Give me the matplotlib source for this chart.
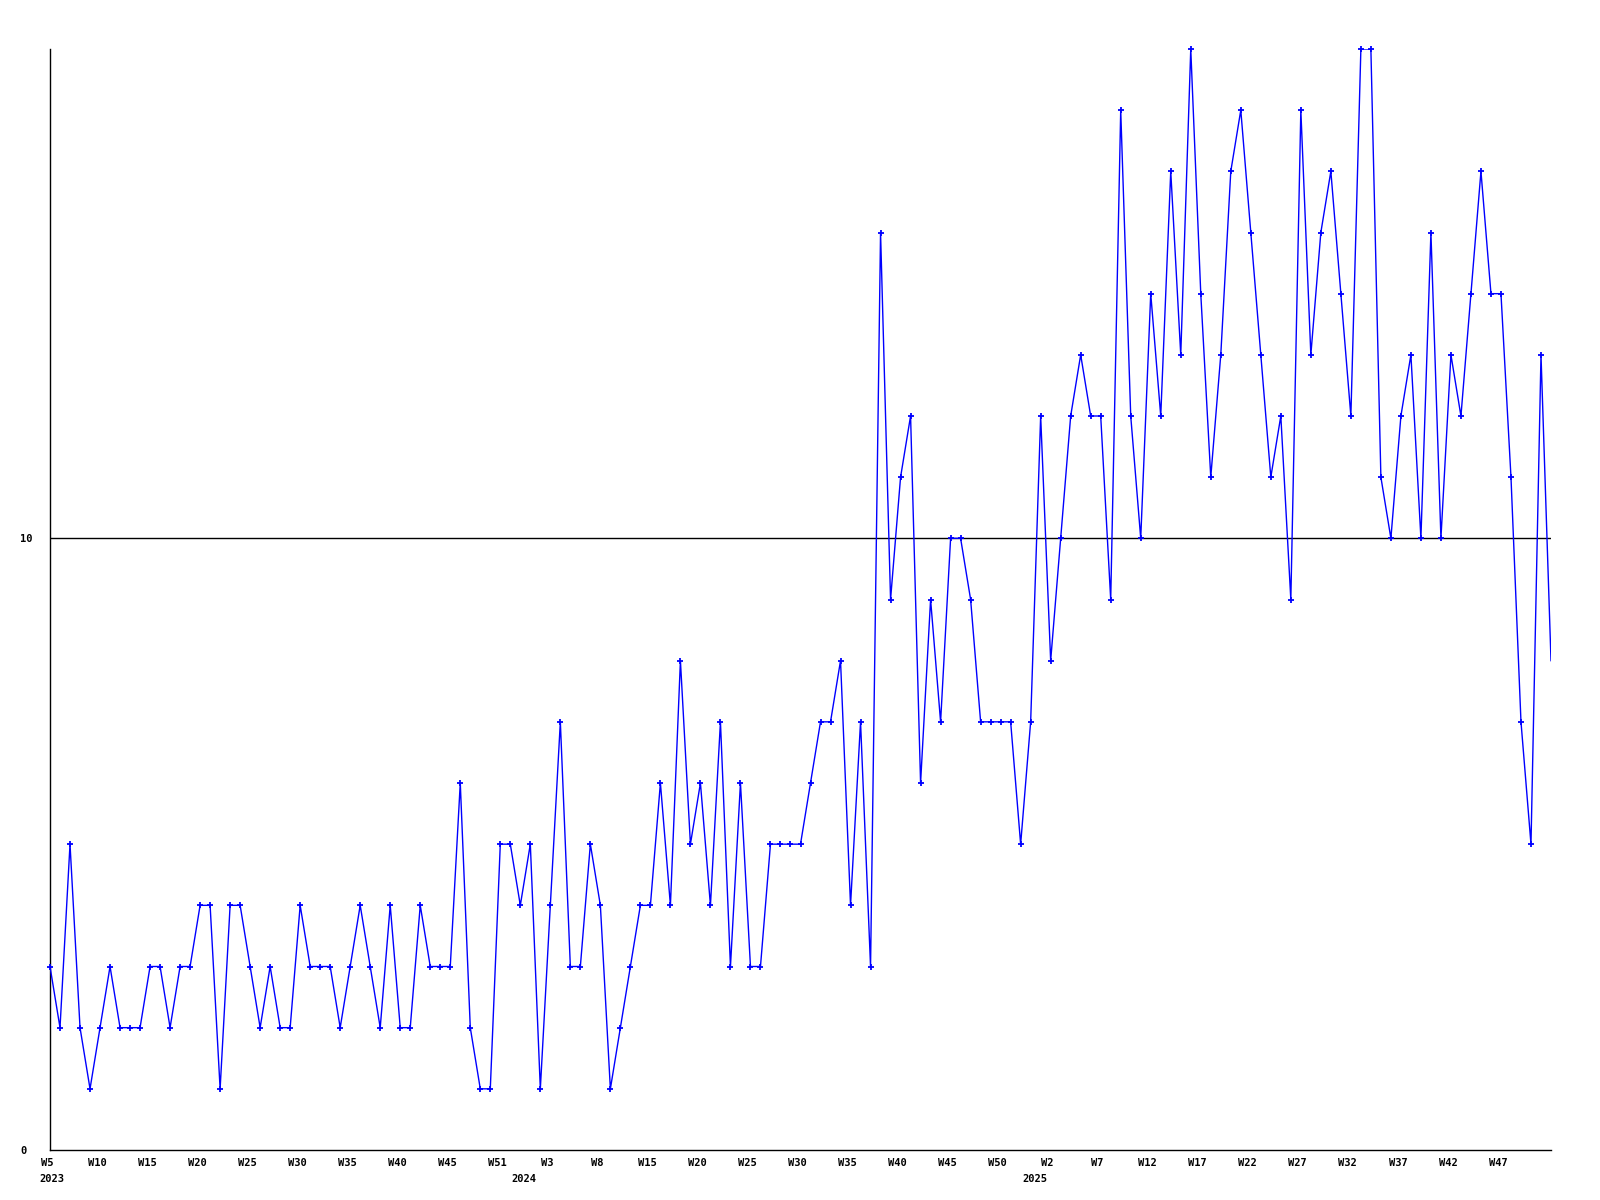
import matplotlib
matplotlib.use("Agg")
import matplotlib.pyplot as plt
import matplotlib.transforms as mtransforms

# ---- data -------------------------------------------------------------
values = [
    3, 2, 5, 2, 1, 2, 3, 2, 2, 2, 3, 3, 2, 3, 3, 4, 4, 1, 4, 4,
    3, 2, 3, 2, 2, 4, 3, 3, 3, 2, 3, 4, 3, 2, 4, 2, 2, 4, 3, 3,
    3, 6, 2, 1, 1, 5, 5, 4, 5, 1, 4, 7, 3, 3, 5, 4, 1, 2, 3, 4,
    4, 6, 4, 8, 5, 6, 4, 7, 3, 6, 3, 3, 5, 5, 5, 5, 6, 7, 7, 8,
    4, 7, 3, 15, 9, 11, 12, 6, 9, 7, 10, 10, 9, 7, 7, 7, 7, 5, 7, 12,
    8, 10, 12, 13, 12, 12, 9, 17, 12, 10, 14, 12, 16, 13, 18, 14, 11, 13, 16, 17,
    15, 13, 11, 12, 9, 17, 13, 15, 16, 14, 12, 18, 18, 11, 10, 12, 13, 10, 15, 10,
    13, 12, 14, 16, 14, 14, 11, 7, 5, 13, 8,
]
week_labels = [
    "W5", "W10", "W15", "W20", "W25", "W30", "W35", "W40", "W45", "W51",
    "W3", "W8", "W15", "W20", "W25", "W30", "W35", "W40", "W45", "W50",
    "W2", "W7", "W12", "W17", "W22", "W27", "W32", "W37", "W42", "W47",
]
week_ticks = list(range(0, 150, 5))
year_labels = ["2023", "2024", "2025"]
year_positions = [0.2, 47.4, 98.4]
y_ticks = [0, 10]

# ---- figure -----------------------------------------------------------
W, H = 1600, 1200
fig = plt.figure(figsize=(16, 12), dpi=100)
fig.patch.set_facecolor("white")
left, right, top, bottom = 50, 1551, 49, 1150
ax = fig.add_axes([left / W, (H - bottom) / H, (right - left) / W, (bottom - top) / H])

x = list(range(len(values)))
ax.plot(x, values, color="#0000ff", lw=1.0, zorder=3)
ax.plot(x[:-1], values[:-1], linestyle="none", color="#0000ff", marker="+",
        ms=4.2, mew=1.3, zorder=4, clip_on=False)

ax.set_xlim(0, len(values) - 1)
ax.set_ylim(0, 18)

for s in ["top", "right"]:
    ax.spines[s].set_visible(False)
for s in ["left", "bottom"]:
    ax.spines[s].set_color("black")
    ax.spines[s].set_linewidth(1.0)

ax.axhline(10, color="black", lw=1.0, zorder=2)

font = dict(family="DejaVu Sans Mono", weight="bold", size=7.5)

ax.set_yticks(y_ticks)
ax.set_yticklabels([str(v) for v in y_ticks], **font)
ax.tick_params(axis="y", length=0, pad=21.6)
for lab in ax.get_yticklabels():
    lab.set_horizontalalignment("left")

ax.set_xticks(week_ticks)
ax.set_xticklabels(week_labels, **font)
ax.tick_params(axis="x", length=0, pad=6.0)
offset = mtransforms.ScaledTranslation(-3 / 100, 0, fig.dpi_scale_trans)
for lab in ax.get_xticklabels():
    lab.set_transform(lab.get_transform() + offset)

trans = mtransforms.blended_transform_factory(ax.transData, fig.transFigure)
for pos, lab in zip(year_positions, year_labels):
    ax.text(pos, (H - 1179) / H, lab, transform=trans, ha="center", va="center",
            clip_on=False, **font)

fig.savefig("out.png", dpi=100, facecolor="white")
